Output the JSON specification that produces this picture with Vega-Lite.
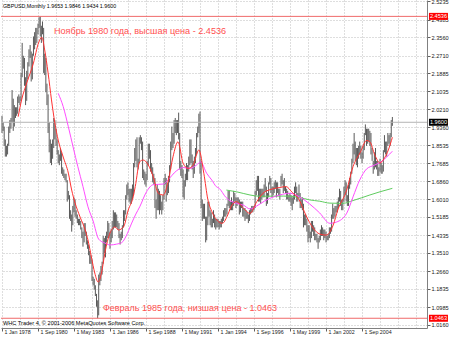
{
"$schema": "https://vega.github.io/schema/vega-lite/v6.json",
"width": 426, "height": 328,
"autosize": {"type": "none"},
"padding": {"left": 1, "top": 0, "right": 23, "bottom": 9},
"background": "white",
"config": {"view": {"stroke": null}, "font": "Liberation Sans", "axis": {"labelOverlap": false, "title": null}},
"resolve": {"scale": {"x": "shared", "y": "shared"}, "axis": {"x": "independent", "y": "independent"}},
"datasets": {
"bars": [
{"d":"1978-01-01","l":1.91,"h":1.99},{"d":"1978-02-01","l":1.92,"h":1.96},{"d":"1978-03-01","l":1.85,"h":1.94},{"d":"1978-04-01","l":1.80,"h":1.88},{"d":"1978-05-01","l":1.80,"h":1.85},{"d":"1978-06-01","l":1.81,"h":1.86},{"d":"1978-07-01","l":1.85,"h":1.94},{"d":"1978-08-01","l":1.91,"h":1.97},{"d":"1978-09-01","l":1.93,"h":1.98},{"d":"1978-10-01","l":1.96,"h":2.11},{"d":"1978-11-01","l":1.92,"h":2.07},{"d":"1978-12-01","l":1.94,"h":2.04},
{"d":"1979-01-01","l":1.98,"h":2.03},{"d":"1979-02-01","l":1.99,"h":2.03},{"d":"1979-03-01","l":2.00,"h":2.08},{"d":"1979-04-01","l":2.05,"h":2.09},{"d":"1979-05-01","l":2.04,"h":2.08},{"d":"1979-06-01","l":2.06,"h":2.19},{"d":"1979-07-01","l":2.17,"h":2.33},{"d":"1979-08-01","l":2.21,"h":2.27},{"d":"1979-09-01","l":2.13,"h":2.26},{"d":"1979-10-01","l":2.04,"h":2.17},{"d":"1979-11-01","l":2.06,"h":2.20},{"d":"1979-12-01","l":2.16,"h":2.24},
{"d":"1980-01-01","l":2.22,"h":2.30},{"d":"1980-02-01","l":2.26,"h":2.32},{"d":"1980-03-01","l":2.15,"h":2.29},{"d":"1980-04-01","l":2.16,"h":2.28},{"d":"1980-05-01","l":2.27,"h":2.36},{"d":"1980-06-01","l":2.30,"h":2.38},{"d":"1980-07-01","l":2.32,"h":2.40},{"d":"1980-08-01","l":2.33,"h":2.40},{"d":"1980-09-01","l":2.37,"h":2.42},{"d":"1980-10-01","l":2.40,"h":2.45},{"d":"1980-11-01","l":2.36,"h":2.4536},{"d":"1980-12-01","l":2.33,"h":2.41},
{"d":"1981-01-01","l":2.37,"h":2.43},{"d":"1981-02-01","l":2.19,"h":2.40},{"d":"1981-03-01","l":2.18,"h":2.28},{"d":"1981-04-01","l":2.10,"h":2.26},{"d":"1981-05-01","l":2.04,"h":2.14},{"d":"1981-06-01","l":1.91,"h":2.09},{"d":"1981-07-01","l":1.82,"h":1.96},{"d":"1981-08-01","l":1.77,"h":1.88},{"d":"1981-09-01","l":1.76,"h":1.86},{"d":"1981-10-01","l":1.79,"h":1.88},{"d":"1981-11-01","l":1.84,"h":1.98},{"d":"1981-12-01","l":1.88,"h":1.97},
{"d":"1982-01-01","l":1.85,"h":1.93},{"d":"1982-02-01","l":1.81,"h":1.88},{"d":"1982-03-01","l":1.77,"h":1.83},{"d":"1982-04-01","l":1.76,"h":1.81},{"d":"1982-05-01","l":1.78,"h":1.84},{"d":"1982-06-01","l":1.72,"h":1.82},{"d":"1982-07-01","l":1.71,"h":1.75},{"d":"1982-08-01","l":1.70,"h":1.74},{"d":"1982-09-01","l":1.69,"h":1.72},{"d":"1982-10-01","l":1.68,"h":1.72},{"d":"1982-11-01","l":1.59,"h":1.69},{"d":"1982-12-01","l":1.60,"h":1.64},
{"d":"1983-01-01","l":1.51,"h":1.62},{"d":"1983-02-01","l":1.50,"h":1.55},{"d":"1983-03-01","l":1.45,"h":1.53},{"d":"1983-04-01","l":1.48,"h":1.57},{"d":"1983-05-01","l":1.54,"h":1.61},{"d":"1983-06-01","l":1.52,"h":1.60},{"d":"1983-07-01","l":1.51,"h":1.55},{"d":"1983-08-01","l":1.49,"h":1.53},{"d":"1983-09-01","l":1.48,"h":1.51},{"d":"1983-10-01","l":1.48,"h":1.51},{"d":"1983-11-01","l":1.46,"h":1.50},{"d":"1983-12-01","l":1.42,"h":1.47},
{"d":"1984-01-01","l":1.38,"h":1.45},{"d":"1984-02-01","l":1.40,"h":1.49},{"d":"1984-03-01","l":1.43,"h":1.49},{"d":"1984-04-01","l":1.39,"h":1.45},{"d":"1984-05-01","l":1.37,"h":1.41},{"d":"1984-06-01","l":1.34,"h":1.39},{"d":"1984-07-01","l":1.30,"h":1.36},{"d":"1984-08-01","l":1.30,"h":1.34},{"d":"1984-09-01","l":1.22,"h":1.32},{"d":"1984-10-01","l":1.20,"h":1.24},{"d":"1984-11-01","l":1.18,"h":1.23},{"d":"1984-12-01","l":1.15,"h":1.20},
{"d":"1985-01-01","l":1.10,"h":1.16},{"d":"1985-02-01","l":1.0463,"h":1.13},{"d":"1985-03-01","l":1.06,"h":1.25},{"d":"1985-04-01","l":1.20,"h":1.26},{"d":"1985-05-01","l":1.22,"h":1.29},{"d":"1985-06-01","l":1.25,"h":1.31},{"d":"1985-07-01","l":1.30,"h":1.43},{"d":"1985-08-01","l":1.35,"h":1.42},{"d":"1985-09-01","l":1.33,"h":1.43},{"d":"1985-10-01","l":1.40,"h":1.45},{"d":"1985-11-01","l":1.42,"h":1.50},{"d":"1985-12-01","l":1.42,"h":1.49},
{"d":"1986-01-01","l":1.37,"h":1.45},{"d":"1986-02-01","l":1.40,"h":1.46},{"d":"1986-03-01","l":1.42,"h":1.50},{"d":"1986-04-01","l":1.46,"h":1.55},{"d":"1986-05-01","l":1.47,"h":1.54},{"d":"1986-06-01","l":1.47,"h":1.54},{"d":"1986-07-01","l":1.47,"h":1.53},{"d":"1986-08-01","l":1.46,"h":1.50},{"d":"1986-09-01","l":1.42,"h":1.49},{"d":"1986-10-01","l":1.39,"h":1.44},{"d":"1986-11-01","l":1.41,"h":1.45},{"d":"1986-12-01","l":1.42,"h":1.48},
{"d":"1987-01-01","l":1.47,"h":1.55},{"d":"1987-02-01","l":1.50,"h":1.55},{"d":"1987-03-01","l":1.53,"h":1.62},{"d":"1987-04-01","l":1.60,"h":1.67},{"d":"1987-05-01","l":1.62,"h":1.68},{"d":"1987-06-01","l":1.59,"h":1.65},{"d":"1987-07-01","l":1.58,"h":1.65},{"d":"1987-08-01","l":1.58,"h":1.65},{"d":"1987-09-01","l":1.60,"h":1.67},{"d":"1987-10-01","l":1.62,"h":1.77},{"d":"1987-11-01","l":1.75,"h":1.84},{"d":"1987-12-01","l":1.78,"h":1.88},
{"d":"1988-01-01","l":1.75,"h":1.89},{"d":"1988-02-01","l":1.74,"h":1.79},{"d":"1988-03-01","l":1.77,"h":1.89},{"d":"1988-04-01","l":1.86,"h":1.90},{"d":"1988-05-01","l":1.83,"h":1.89},{"d":"1988-06-01","l":1.70,"h":1.87},{"d":"1988-07-01","l":1.69,"h":1.74},{"d":"1988-08-01","l":1.67,"h":1.73},{"d":"1988-09-01","l":1.66,"h":1.72},{"d":"1988-10-01","l":1.69,"h":1.78},{"d":"1988-11-01","l":1.76,"h":1.86},{"d":"1988-12-01","l":1.79,"h":1.86},
{"d":"1989-01-01","l":1.73,"h":1.83},{"d":"1989-02-01","l":1.72,"h":1.77},{"d":"1989-03-01","l":1.68,"h":1.75},{"d":"1989-04-01","l":1.67,"h":1.72},{"d":"1989-05-01","l":1.56,"h":1.70},{"d":"1989-06-01","l":1.51,"h":1.60},{"d":"1989-07-01","l":1.55,"h":1.67},{"d":"1989-08-01","l":1.55,"h":1.65},{"d":"1989-09-01","l":1.53,"h":1.64},{"d":"1989-10-01","l":1.55,"h":1.62},{"d":"1989-11-01","l":1.53,"h":1.59},{"d":"1989-12-01","l":1.55,"h":1.62},
{"d":"1990-01-01","l":1.60,"h":1.70},{"d":"1990-02-01","l":1.67,"h":1.72},{"d":"1990-03-01","l":1.59,"h":1.70},{"d":"1990-04-01","l":1.62,"h":1.67},{"d":"1990-05-01","l":1.63,"h":1.71},{"d":"1990-06-01","l":1.68,"h":1.76},{"d":"1990-07-01","l":1.74,"h":1.87},{"d":"1990-08-01","l":1.83,"h":1.94},{"d":"1990-09-01","l":1.84,"h":1.91},{"d":"1990-10-01","l":1.86,"h":1.97},{"d":"1990-11-01","l":1.91,"h":1.98},{"d":"1990-12-01","l":1.90,"h":1.97},
{"d":"1991-01-01","l":1.91,"h":1.97},{"d":"1991-02-01","l":1.88,"h":2.005},{"d":"1991-03-01","l":1.74,"h":1.91},{"d":"1991-04-01","l":1.71,"h":1.78},{"d":"1991-05-01","l":1.70,"h":1.76},{"d":"1991-06-01","l":1.61,"h":1.74},{"d":"1991-07-01","l":1.60,"h":1.69},{"d":"1991-08-01","l":1.66,"h":1.72},{"d":"1991-09-01","l":1.69,"h":1.77},{"d":"1991-10-01","l":1.69,"h":1.76},{"d":"1991-11-01","l":1.73,"h":1.80},{"d":"1991-12-01","l":1.76,"h":1.88},
{"d":"1992-01-01","l":1.77,"h":1.88},{"d":"1992-02-01","l":1.74,"h":1.81},{"d":"1992-03-01","l":1.70,"h":1.78},{"d":"1992-04-01","l":1.72,"h":1.80},{"d":"1992-05-01","l":1.77,"h":1.84},{"d":"1992-06-01","l":1.81,"h":1.91},{"d":"1992-07-01","l":1.89,"h":1.94},{"d":"1992-08-01","l":1.91,"h":2.00},{"d":"1992-09-01","l":1.72,"h":2.01},{"d":"1992-10-01","l":1.56,"h":1.78},{"d":"1992-11-01","l":1.50,"h":1.60},{"d":"1992-12-01","l":1.51,"h":1.58},
{"d":"1993-01-01","l":1.51,"h":1.58},{"d":"1993-02-01","l":1.40,"h":1.52},{"d":"1993-03-01","l":1.41,"h":1.52},{"d":"1993-04-01","l":1.48,"h":1.59},{"d":"1993-05-01","l":1.52,"h":1.59},{"d":"1993-06-01","l":1.48,"h":1.55},{"d":"1993-07-01","l":1.47,"h":1.54},{"d":"1993-08-01","l":1.47,"h":1.51},{"d":"1993-09-01","l":1.49,"h":1.55},{"d":"1993-10-01","l":1.47,"h":1.53},{"d":"1993-11-01","l":1.46,"h":1.51},{"d":"1993-12-01","l":1.47,"h":1.51},
{"d":"1994-01-01","l":1.47,"h":1.51},{"d":"1994-02-01","l":1.46,"h":1.50},{"d":"1994-03-01","l":1.47,"h":1.50},{"d":"1994-04-01","l":1.47,"h":1.51},{"d":"1994-05-01","l":1.49,"h":1.52},{"d":"1994-06-01","l":1.50,"h":1.55},{"d":"1994-07-01","l":1.52,"h":1.56},{"d":"1994-08-01","l":1.52,"h":1.56},{"d":"1994-09-01","l":1.53,"h":1.58},{"d":"1994-10-01","l":1.57,"h":1.64},{"d":"1994-11-01","l":1.56,"h":1.64},{"d":"1994-12-01","l":1.55,"h":1.59},
{"d":"1995-01-01","l":1.55,"h":1.61},{"d":"1995-02-01","l":1.55,"h":1.59},{"d":"1995-03-01","l":1.57,"h":1.64},{"d":"1995-04-01","l":1.59,"h":1.63},{"d":"1995-05-01","l":1.56,"h":1.61},{"d":"1995-06-01","l":1.57,"h":1.61},{"d":"1995-07-01","l":1.58,"h":1.61},{"d":"1995-08-01","l":1.53,"h":1.60},{"d":"1995-09-01","l":1.54,"h":1.59},{"d":"1995-10-01","l":1.56,"h":1.59},{"d":"1995-11-01","l":1.52,"h":1.59},{"d":"1995-12-01","l":1.52,"h":1.56},
{"d":"1996-01-01","l":1.50,"h":1.56},{"d":"1996-02-01","l":1.51,"h":1.55},{"d":"1996-03-01","l":1.51,"h":1.54},{"d":"1996-04-01","l":1.49,"h":1.53},{"d":"1996-05-01","l":1.50,"h":1.55},{"d":"1996-06-01","l":1.53,"h":1.56},{"d":"1996-07-01","l":1.54,"h":1.57},{"d":"1996-08-01","l":1.54,"h":1.57},{"d":"1996-09-01","l":1.55,"h":1.57},{"d":"1996-10-01","l":1.56,"h":1.64},{"d":"1996-11-01","l":1.62,"h":1.69},{"d":"1996-12-01","l":1.64,"h":1.71},
{"d":"1997-01-01","l":1.59,"h":1.71},{"d":"1997-02-01","l":1.59,"h":1.65},{"d":"1997-03-01","l":1.58,"h":1.65},{"d":"1997-04-01","l":1.60,"h":1.65},{"d":"1997-05-01","l":1.61,"h":1.65},{"d":"1997-06-01","l":1.61,"h":1.67},{"d":"1997-07-01","l":1.64,"h":1.70},{"d":"1997-08-01","l":1.57,"h":1.66},{"d":"1997-09-01","l":1.58,"h":1.63},{"d":"1997-10-01","l":1.61,"h":1.68},{"d":"1997-11-01","l":1.67,"h":1.71},{"d":"1997-12-01","l":1.63,"h":1.70},
{"d":"1998-01-01","l":1.61,"h":1.66},{"d":"1998-02-01","l":1.62,"h":1.66},{"d":"1998-03-01","l":1.63,"h":1.68},{"d":"1998-04-01","l":1.65,"h":1.69},{"d":"1998-05-01","l":1.61,"h":1.68},{"d":"1998-06-01","l":1.63,"h":1.68},{"d":"1998-07-01","l":1.62,"h":1.65},{"d":"1998-08-01","l":1.60,"h":1.65},{"d":"1998-09-01","l":1.66,"h":1.71},{"d":"1998-10-01","l":1.67,"h":1.72},{"d":"1998-11-01","l":1.63,"h":1.69},{"d":"1998-12-01","l":1.64,"h":1.70},
{"d":"1999-01-01","l":1.63,"h":1.66},{"d":"1999-02-01","l":1.60,"h":1.65},{"d":"1999-03-01","l":1.60,"h":1.64},{"d":"1999-04-01","l":1.59,"h":1.62},{"d":"1999-05-01","l":1.59,"h":1.63},{"d":"1999-06-01","l":1.57,"h":1.62},{"d":"1999-07-01","l":1.55,"h":1.61},{"d":"1999-08-01","l":1.58,"h":1.62},{"d":"1999-09-01","l":1.60,"h":1.66},{"d":"1999-10-01","l":1.63,"h":1.68},{"d":"1999-11-01","l":1.59,"h":1.66},{"d":"1999-12-01","l":1.59,"h":1.63},
{"d":"2000-01-01","l":1.61,"h":1.67},{"d":"2000-02-01","l":1.56,"h":1.63},{"d":"2000-03-01","l":1.56,"h":1.60},{"d":"2000-04-01","l":1.55,"h":1.61},{"d":"2000-05-01","l":1.47,"h":1.58},{"d":"2000-06-01","l":1.48,"h":1.53},{"d":"2000-07-01","l":1.48,"h":1.53},{"d":"2000-08-01","l":1.45,"h":1.51},{"d":"2000-09-01","l":1.40,"h":1.48},{"d":"2000-10-01","l":1.42,"h":1.48},{"d":"2000-11-01","l":1.40,"h":1.45},{"d":"2000-12-01","l":1.42,"h":1.50},
{"d":"2001-01-01","l":1.45,"h":1.50},{"d":"2001-02-01","l":1.43,"h":1.48},{"d":"2001-03-01","l":1.41,"h":1.47},{"d":"2001-04-01","l":1.41,"h":1.44},{"d":"2001-05-01","l":1.40,"h":1.44},{"d":"2001-06-01","l":1.37,"h":1.42},{"d":"2001-07-01","l":1.40,"h":1.43},{"d":"2001-08-01","l":1.41,"h":1.46},{"d":"2001-09-01","l":1.43,"h":1.48},{"d":"2001-10-01","l":1.43,"h":1.47},{"d":"2001-11-01","l":1.41,"h":1.46},{"d":"2001-12-01","l":1.42,"h":1.46},
{"d":"2002-01-01","l":1.40,"h":1.45},{"d":"2002-02-01","l":1.41,"h":1.43},{"d":"2002-03-01","l":1.41,"h":1.44},{"d":"2002-04-01","l":1.42,"h":1.47},{"d":"2002-05-01","l":1.44,"h":1.47},{"d":"2002-06-01","l":1.45,"h":1.53},{"d":"2002-07-01","l":1.51,"h":1.58},{"d":"2002-08-01","l":1.51,"h":1.56},{"d":"2002-09-01","l":1.52,"h":1.57},{"d":"2002-10-01","l":1.54,"h":1.57},{"d":"2002-11-01","l":1.54,"h":1.59},{"d":"2002-12-01","l":1.56,"h":1.61},
{"d":"2003-01-01","l":1.59,"h":1.65},{"d":"2003-02-01","l":1.57,"h":1.64},{"d":"2003-03-01","l":1.55,"h":1.60},{"d":"2003-04-01","l":1.55,"h":1.60},{"d":"2003-05-01","l":1.59,"h":1.66},{"d":"2003-06-01","l":1.62,"h":1.69},{"d":"2003-07-01","l":1.59,"h":1.68},{"d":"2003-08-01","l":1.57,"h":1.62},{"d":"2003-09-01","l":1.57,"h":1.67},{"d":"2003-10-01","l":1.65,"h":1.70},{"d":"2003-11-01","l":1.67,"h":1.73},{"d":"2003-12-01","l":1.72,"h":1.79},
{"d":"2004-01-01","l":1.77,"h":1.86},{"d":"2004-02-01","l":1.81,"h":1.91},{"d":"2004-03-01","l":1.78,"h":1.87},{"d":"2004-04-01","l":1.76,"h":1.84},{"d":"2004-05-01","l":1.75,"h":1.84},{"d":"2004-06-01","l":1.79,"h":1.85},{"d":"2004-07-01","l":1.81,"h":1.87},{"d":"2004-08-01","l":1.79,"h":1.85},{"d":"2004-09-01","l":1.77,"h":1.82},{"d":"2004-10-01","l":1.79,"h":1.85},{"d":"2004-11-01","l":1.83,"h":1.91},{"d":"2004-12-01","l":1.90,"h":1.95},
{"d":"2005-01-01","l":1.85,"h":1.93},{"d":"2005-02-01","l":1.86,"h":1.93},{"d":"2005-03-01","l":1.87,"h":1.93},{"d":"2005-04-01","l":1.85,"h":1.92},{"d":"2005-05-01","l":1.81,"h":1.91},{"d":"2005-06-01","l":1.78,"h":1.84},{"d":"2005-07-01","l":1.72,"h":1.78},{"d":"2005-08-01","l":1.74,"h":1.82},{"d":"2005-09-01","l":1.75,"h":1.84},{"d":"2005-10-01","l":1.74,"h":1.78},{"d":"2005-11-01","l":1.71,"h":1.78},{"d":"2005-12-01","l":1.71,"h":1.75},
{"d":"2006-01-01","l":1.73,"h":1.79},{"d":"2006-02-01","l":1.72,"h":1.77},{"d":"2006-03-01","l":1.72,"h":1.76},{"d":"2006-04-01","l":1.73,"h":1.83},{"d":"2006-05-01","l":1.82,"h":1.90},{"d":"2006-06-01","l":1.81,"h":1.87},{"d":"2006-07-01","l":1.80,"h":1.87},{"d":"2006-08-01","l":1.85,"h":1.91},{"d":"2006-09-01","l":1.86,"h":1.90},{"d":"2006-10-01","l":1.85,"h":1.91},{"d":"2006-11-01","l":1.89,"h":1.97},{"d":"2006-12-01","l":1.9434,"h":1.9846}
],
"ma": [
{"s":"r","d":"1979-03-15","v":1.986},{"s":"r","d":"1979-06-15","v":2.064},{"s":"r","d":"1979-11-01","v":2.143},{"s":"r","d":"1980-05-01","v":2.236},{"s":"r","d":"1980-09-15","v":2.330},{"s":"r","d":"1980-12-15","v":2.356},{"s":"r","d":"1981-03-01","v":2.297},{"s":"r","d":"1981-06-01","v":2.190},{"s":"r","d":"1981-09-01","v":2.064},{"s":"r","d":"1981-12-01","v":1.957},{"s":"r","d":"1982-03-01","v":1.877},{"s":"r","d":"1982-07-15","v":1.798},{"s":"r","d":"1982-12-01","v":1.723},{"s":"r","d":"1983-03-01","v":1.644},{"s":"r","d":"1983-06-01","v":1.584},{"s":"r","d":"1983-10-15","v":1.518},{"s":"r","d":"1984-03-01","v":1.458},{"s":"r","d":"1984-05-15","v":1.411},{"s":"r","d":"1984-08-15","v":1.332},{"s":"r","d":"1984-11-15","v":1.257},{"s":"r","d":"1985-02-15","v":1.215},{"s":"r","d":"1985-05-15","v":1.257},{"s":"r","d":"1985-08-15","v":1.350},{"s":"r","d":"1986-01-01","v":1.444},{"s":"r","d":"1986-05-15","v":1.472},{"s":"r","d":"1986-08-15","v":1.458},{"s":"r","d":"1987-01-01","v":1.472},{"s":"r","d":"1987-05-10","v":1.551},{"s":"r","d":"1987-09-20","v":1.612},{"s":"r","d":"1987-11-15","v":1.660},{"s":"r","d":"1988-03-15","v":1.776},{"s":"r","d":"1988-06-15","v":1.784},{"s":"r","d":"1988-11-01","v":1.761},{"s":"r","d":"1989-03-15","v":1.706},{"s":"r","d":"1989-08-01","v":1.629},{"s":"r","d":"1989-12-15","v":1.621},{"s":"r","d":"1990-05-01","v":1.691},{"s":"r","d":"1990-09-01","v":1.799},{"s":"r","d":"1991-01-15","v":1.869},{"s":"r","d":"1991-06-01","v":1.769},{"s":"r","d":"1991-10-15","v":1.745},{"s":"r","d":"1992-03-01","v":1.761},{"s":"r","d":"1992-08-01","v":1.831},{"s":"r","d":"1992-12-15","v":1.720},{"s":"r","d":"1993-04-01","v":1.600},{"s":"r","d":"1993-07-15","v":1.545},{"s":"r","d":"1993-12-01","v":1.504},{"s":"r","d":"1994-05-01","v":1.489},{"s":"r","d":"1994-09-01","v":1.520},{"s":"r","d":"1995-01-01","v":1.570},{"s":"r","d":"1995-05-15","v":1.590},{"s":"r","d":"1995-11-15","v":1.560},{"s":"r","d":"1996-05-15","v":1.535},{"s":"r","d":"1996-11-15","v":1.590},{"s":"r","d":"1997-05-01","v":1.629},{"s":"r","d":"1997-12-01","v":1.647},{"s":"r","d":"1998-08-01","v":1.656},{"s":"r","d":"1999-01-15","v":1.660},{"s":"r","d":"1999-07-01","v":1.633},{"s":"r","d":"2000-01-01","v":1.600},{"s":"r","d":"2000-07-15","v":1.523},{"s":"r","d":"2001-01-15","v":1.467},{"s":"r","d":"2001-07-15","v":1.439},{"s":"r","d":"2002-01-01","v":1.434},{"s":"r","d":"2002-07-15","v":1.481},{"s":"r","d":"2002-11-15","v":1.551},{"s":"r","d":"2003-07-15","v":1.644},{"s":"r","d":"2004-01-01","v":1.753},{"s":"r","d":"2004-07-15","v":1.819},{"s":"r","d":"2005-01-01","v":1.875},{"s":"r","d":"2005-04-01","v":1.869},{"s":"r","d":"2005-08-15","v":1.807},{"s":"r","d":"2006-01-01","v":1.770},{"s":"r","d":"2006-04-15","v":1.789},{"s":"r","d":"2006-08-15","v":1.831},{"s":"r","d":"2006-12-01","v":1.890},
{"s":"m","d":"1982-03-01","v":2.095},{"s":"m","d":"1982-07-15","v":2.033},{"s":"m","d":"1982-12-01","v":1.939},{"s":"m","d":"1983-04-15","v":1.840},{"s":"m","d":"1983-08-15","v":1.753},{"s":"m","d":"1984-01-01","v":1.660},{"s":"m","d":"1984-05-15","v":1.566},{"s":"m","d":"1984-10-01","v":1.500},{"s":"m","d":"1985-03-01","v":1.415},{"s":"m","d":"1985-08-15","v":1.397},{"s":"m","d":"1986-01-01","v":1.388},{"s":"m","d":"1986-07-01","v":1.392},{"s":"m","d":"1986-11-15","v":1.399},{"s":"m","d":"1987-03-15","v":1.430},{"s":"m","d":"1987-08-01","v":1.486},{"s":"m","d":"1987-12-01","v":1.532},{"s":"m","d":"1988-03-15","v":1.566},{"s":"m","d":"1988-09-15","v":1.636},{"s":"m","d":"1989-03-15","v":1.669},{"s":"m","d":"1989-12-15","v":1.672},{"s":"m","d":"1990-04-15","v":1.691},{"s":"m","d":"1990-12-01","v":1.733},{"s":"m","d":"1991-06-01","v":1.749},{"s":"m","d":"1991-12-01","v":1.745},{"s":"m","d":"1992-06-01","v":1.761},{"s":"m","d":"1992-09-15","v":1.775},{"s":"m","d":"1993-03-01","v":1.722},{"s":"m","d":"1993-07-15","v":1.691},{"s":"m","d":"1993-11-15","v":1.660},{"s":"m","d":"1994-02-01","v":1.652},{"s":"m","d":"1994-08-01","v":1.610},{"s":"m","d":"1995-05-15","v":1.582},{"s":"m","d":"1995-11-15","v":1.574},{"s":"m","d":"1996-05-15","v":1.556},{"s":"m","d":"1996-11-15","v":1.570},{"s":"m","d":"1997-06-15","v":1.593},{"s":"m","d":"1997-11-01","v":1.605},{"s":"m","d":"1998-08-01","v":1.621},{"s":"m","d":"1999-05-01","v":1.629},{"s":"m","d":"2000-01-01","v":1.613},{"s":"m","d":"2000-10-15","v":1.579},{"s":"m","d":"2001-07-15","v":1.537},{"s":"m","d":"2002-04-15","v":1.489},{"s":"m","d":"2002-10-15","v":1.495},{"s":"m","d":"2003-07-15","v":1.536},{"s":"m","d":"2004-01-01","v":1.612},{"s":"m","d":"2004-07-01","v":1.691},{"s":"m","d":"2005-01-01","v":1.742},{"s":"m","d":"2005-08-15","v":1.761},{"s":"m","d":"2006-02-01","v":1.776},{"s":"m","d":"2006-07-01","v":1.798},{"s":"m","d":"2006-12-01","v":1.825},
{"s":"g","d":"1994-08-15","v":1.644},{"s":"g","d":"1995-05-15","v":1.636},{"s":"g","d":"1996-05-15","v":1.621},{"s":"g","d":"1997-02-01","v":1.615},{"s":"g","d":"1998-11-01","v":1.616},{"s":"g","d":"2000-01-01","v":1.610},{"s":"g","d":"2000-10-15","v":1.598},{"s":"g","d":"2001-07-15","v":1.592},{"s":"g","d":"2002-04-15","v":1.583},{"s":"g","d":"2003-04-01","v":1.582},{"s":"g","d":"2004-01-01","v":1.595},{"s":"g","d":"2005-04-01","v":1.621},{"s":"g","d":"2006-01-01","v":1.636},{"s":"g","d":"2006-12-01","v":1.652}
],
"levels": [{"k":"hi","p":2.4536},{"k":"cur","p":1.96},{"k":"lo","p":1.0463}],
"one": [{}]
},
"layer": [
{"data": {"name": "bars"},
 "mark": {"type": "rule", "color": "#5a5a5a", "strokeWidth": 1},
 "encoding": {
  "x": {"field": "d", "type": "temporal",
   "scale": {"type": "utc", "domain": [{"year":1977,"month":12,"date":5,"utc":true},{"year":2009,"month":6,"date":25,"utc":true}]},
   "axis": {"orient": "bottom", "title": null,
    "values": [{"year":1978,"month":1,"date":1,"utc":true},{"year":1979,"month":5,"date":1,"utc":true},{"year":1980,"month":9,"date":1,"utc":true},{"year":1982,"month":1,"date":1,"utc":true},{"year":1983,"month":5,"date":1,"utc":true},{"year":1984,"month":9,"date":1,"utc":true},{"year":1986,"month":1,"date":1,"utc":true},{"year":1987,"month":5,"date":1,"utc":true},{"year":1988,"month":9,"date":1,"utc":true},{"year":1990,"month":1,"date":1,"utc":true},{"year":1991,"month":5,"date":1,"utc":true},{"year":1992,"month":9,"date":1,"utc":true},{"year":1994,"month":1,"date":1,"utc":true},{"year":1995,"month":5,"date":1,"utc":true},{"year":1996,"month":9,"date":1,"utc":true},{"year":1998,"month":1,"date":1,"utc":true},{"year":1999,"month":5,"date":1,"utc":true},{"year":2000,"month":9,"date":1,"utc":true},{"year":2002,"month":1,"date":1,"utc":true},{"year":2003,"month":5,"date":1,"utc":true},{"year":2004,"month":9,"date":1,"utc":true},{"year":2006,"month":1,"date":1,"utc":true},{"year":2007,"month":5,"date":1,"utc":true},{"year":2008,"month":9,"date":1,"utc":true}],
    "labelExpr": "((utcyear(datum.value)-1978)*12+utcmonth(datum.value)) % 32 == 0 && utcyear(datum.value) < 2006 ? utcFormat(datum.value, '%-d %b %Y') : ''",
    "tickSize": {"condition": {"test": "((utcyear(datum.value)-1978)*12+utcmonth(datum.value)) % 32 == 0 && utcyear(datum.value) < 2006", "value": 3}, "value": 0},
    "labelAlign": "left", "labelBaseline": "top", "labelPadding": -2, "labelOffset": 2,
    "labelFontSize": 5.3, "labelColor": "#202020", "labelOverlap": false, "labelFlush": false, "labelBound": false,
    "tickColor": "#606060", "domainColor": "#808080",
    "grid": true, "gridDash": [1, 2], "gridColor": "#bcbcbc"}},
  "y": {"field": "l", "type": "quantitative",
   "scale": {"domain": [1.0009, 2.53], "nice": false, "zero": false},
   "axis": {"orient": "right", "title": null,
    "values": [2.5235,2.4385,2.356,2.271,2.1885,2.1035,2.021,1.936,1.8535,1.7685,1.686,1.601,1.5185,1.4335,1.351,1.266,1.1835,1.0985,1.016],
    "format": ".4f", "labelFontSize": 5.6, "labelColor": "#202020", "labelPadding": 1, "labelOverlap": false, "labelFlush": false, "labelBound": false,
    "tickSize": 3, "tickColor": "#606060", "domainColor": "#808080",
    "grid": true, "gridDash": [1, 2], "gridColor": "#bcbcbc"}},
  "y2": {"field": "h"}
 }},
{"data": {"name": "levels"},
 "mark": {"type": "rule", "strokeWidth": 1},
 "encoding": {
  "y": {"field": "p", "type": "quantitative", "axis": null},
  "color": {"condition": {"test": "datum.k == 'cur'", "value": "#b4b4b4"}, "value": "#f06a6a"}
 }},
{"data": {"name": "ma"}, "transform": [{"filter": "datum.s == 'g'"}],
 "mark": {"type": "line", "color": "#5fcc5f", "strokeWidth": 1, "interpolate": "monotone"},
 "encoding": {"x": {"field": "d", "type": "temporal", "axis": null}, "y": {"field": "v", "type": "quantitative", "axis": null}}},
{"data": {"name": "ma"}, "transform": [{"filter": "datum.s == 'm'"}],
 "mark": {"type": "line", "color": "#ff4cff", "strokeWidth": 1, "interpolate": "monotone"},
 "encoding": {"x": {"field": "d", "type": "temporal", "axis": null}, "y": {"field": "v", "type": "quantitative", "axis": null}}},
{"data": {"name": "ma"}, "transform": [{"filter": "datum.s == 'r'"}],
 "mark": {"type": "line", "color": "#ff3232", "strokeWidth": 1, "interpolate": "monotone"},
 "encoding": {"x": {"field": "d", "type": "temporal", "axis": null}, "y": {"field": "v", "type": "quantitative", "axis": null}}},
{"data": {"name": "one"},
 "mark": {"type": "text", "align": "left", "baseline": "middle", "fontSize": 5.3, "color": "#000000", "text": "GBPUSD,Monthly  1.9653 1.9846 1.9434 1.9600"},
 "encoding": {"x": {"datum": {"year":1978,"month":1,"date":28,"utc":true}, "type": "temporal", "axis": null}, "y": {"datum": 2.500, "type": "quantitative", "axis": null}}},
{"data": {"name": "one"},
 "mark": {"type": "text", "align": "left", "baseline": "alphabetic", "fontSize": 9.1, "color": "#ff5050", "text": "Ноябрь 1980 года, высшая цена - 2.4536"},
 "encoding": {"x": {"datum": {"year":1981,"month":11,"date":7,"utc":true}, "type": "temporal", "axis": null}, "y": {"datum": 2.373, "type": "quantitative", "axis": null}}},
{"data": {"name": "one"},
 "mark": {"type": "text", "align": "left", "baseline": "alphabetic", "fontSize": 9, "color": "#ff5050", "text": "Февраль 1985 года, низшая цена - 1.0463"},
 "encoding": {"x": {"datum": {"year":1985,"month":6,"date":25,"utc":true}, "type": "temporal", "axis": null}, "y": {"datum": 1.080, "type": "quantitative", "axis": null}}},
{"data": {"name": "one"},
 "mark": {"type": "text", "align": "left", "baseline": "alphabetic", "fontSize": 5.6, "color": "#000000", "text": "WHC Trader 4, © 2001-2006 MetaQuotes Software Corp."},
 "encoding": {"x": {"datum": {"year":1978,"month":1,"date":28,"utc":true}, "type": "temporal", "axis": null}, "y": {"datum": 1.0148, "type": "quantitative", "axis": null}}},
{"data": {"name": "levels"},
 "mark": {"type": "tick", "orient": "horizontal", "size": 19, "thickness": 7, "opacity": 1},
 "encoding": {
  "x": {"datum": {"year":2010,"month":5,"date":1,"utc":true}, "type": "temporal", "axis": null},
  "y": {"field": "p", "type": "quantitative", "axis": null},
  "color": {"condition": {"test": "datum.k == 'cur'", "value": "#000000"}, "value": "#ff0000"}
 }},
{"data": {"name": "levels"},
 "mark": {"type": "text", "align": "center", "baseline": "middle", "fontSize": 5.6, "color": "#ffffff"},
 "encoding": {
  "x": {"datum": {"year":2010,"month":5,"date":1,"utc":true}, "type": "temporal", "axis": null},
  "y": {"field": "p", "type": "quantitative", "axis": null},
  "text": {"field": "p", "type": "quantitative", "format": ".4f"}
 }}
]
}
